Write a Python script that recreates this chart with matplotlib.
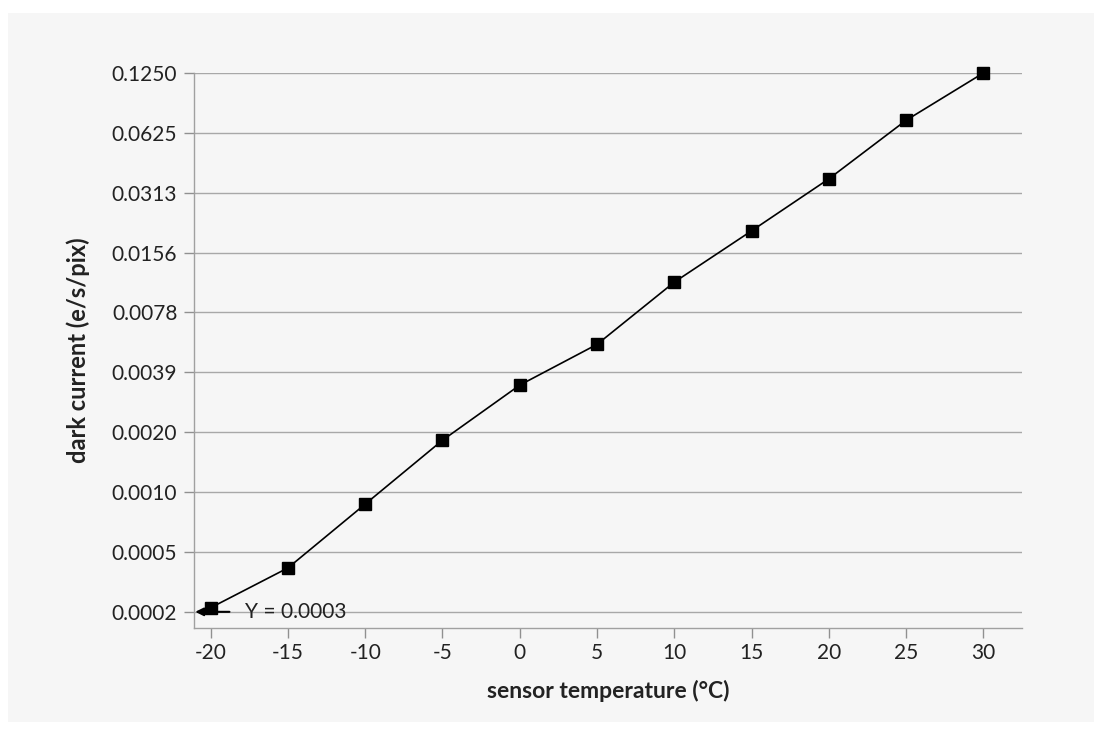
import numpy as np
import matplotlib
matplotlib.use("Agg")
import matplotlib.pyplot as plt
from matplotlib.patches import Rectangle
from matplotlib.ticker import FixedLocator, FixedFormatter, NullLocator

plt.rcParams['font.family'] = ['Lato', 'DejaVu Sans']

# data
temperature = [-20, -15, -10, -5, 0, 5, 10, 15, 20, 25, 30]
dark_current = [0.000256, 0.000406, 0.00085, 0.00178, 0.00337, 0.0054,
                0.0111, 0.0201, 0.0367, 0.0723, 0.125]

y_ticks = [2.0 ** -k for k in range(12, 2, -1)]
y_labels = ['0.0002', '0.0005', '0.0010', '0.0020', '0.0039',
            '0.0078', '0.0156', '0.0313', '0.0625', '0.1250']
x_ticks = [-20, -15, -10, -5, 0, 5, 10, 15, 20, 25, 30]

bg = '#f6f6f6'
fig = plt.figure(figsize=(11.02, 7.38), dpi=100)
fig.patch.set_facecolor('white')
fig.patches.append(Rectangle((8 / 1102, 1 - 722 / 738), 1086 / 1102, 709 / 738,
                             transform=fig.transFigure, facecolor=bg,
                             edgecolor='none', zorder=-10))

ax = fig.add_axes([194 / 1102, 1 - 628 / 738, (1022 - 194) / 1102, (628 - 73) / 738])
ax.set_facecolor(bg)

ax.set_yscale('log', base=2)
ax.set_ylim(2.0 ** -12.27, 2.0 ** -3)
ax.set_xlim(-21.08, 32.5)

ax.yaxis.set_major_locator(FixedLocator(y_ticks))
ax.yaxis.set_major_formatter(FixedFormatter(y_labels))
ax.yaxis.set_minor_locator(NullLocator())
ax.set_xticks(x_ticks)
ax.set_xticklabels([str(t) for t in x_ticks])

ax.grid(axis='y', color='#a8a8a8', linewidth=1)
ax.set_axisbelow(True)
for side in ['top', 'right']:
    ax.spines[side].set_visible(False)
for side in ['left', 'bottom']:
    ax.spines[side].set_color('#a0a0a0')
    ax.spines[side].set_linewidth(1)

ax.tick_params(axis='both', colors='#909090', labelcolor='#222222',
               labelsize=15, length=7, width=1)
ax.tick_params(axis='y', pad=5)
ax.tick_params(axis='x', pad=4)

ax.plot(temperature, dark_current, color='black', linewidth=1.2,
        marker='s', markersize=9, markerfacecolor='black', clip_on=False, zorder=3)

# reference annotation
ax.annotate('Y = 0.0003', xy=(-21.0, 2.0 ** -12), xytext=(-17.8, 2.0 ** -12),
            fontsize=15, color='#222222', va='center',
            arrowprops=dict(arrowstyle='-|>', color='black', lw=1.5,
                            mutation_scale=12, shrinkA=0, shrinkB=0,
                            relpos=(-0.15, 0.5)))

ax.set_xlabel('sensor temperature (°C)', fontsize=16.5, fontweight='bold',
              color='#222222', labelpad=12)
ax.set_ylabel('dark current (e/s/pix)', fontsize=17, fontweight='bold',
              color='#222222', labelpad=16)

fig.savefig('out.png', dpi=100, facecolor=fig.get_facecolor())
